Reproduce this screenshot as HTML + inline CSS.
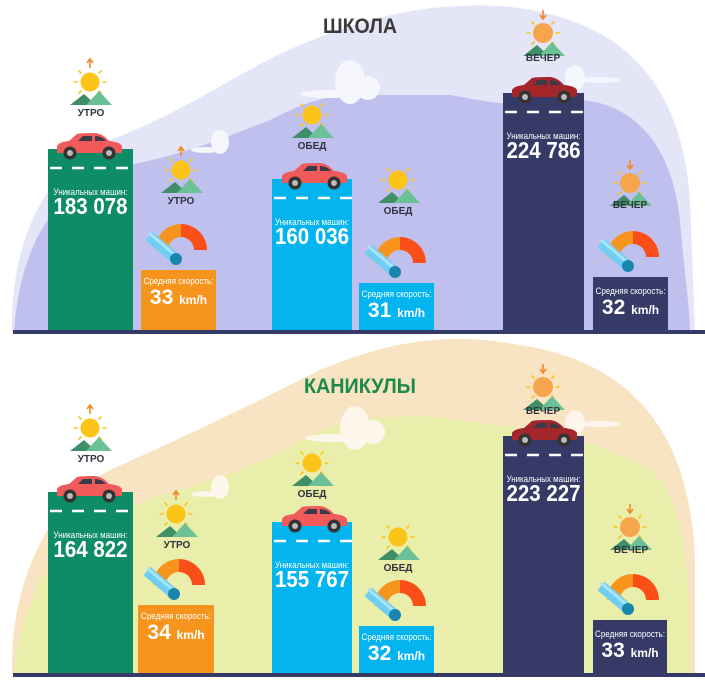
<!DOCTYPE html>
<html><head><meta charset="utf-8"><style>
html,body{margin:0;padding:0;background:#fff;}
svg{display:block;}
text{font-family:"Liberation Sans","DejaVu Sans",sans-serif;}
</style></head><body>
<svg width="705" height="682" viewBox="0 0 705 682" xmlns="http://www.w3.org/2000/svg">
<defs>
<g id="car">
<path d="M1,20 L1,13 Q3,9 13,8 L21,1 Q24,0 38,0 Q46,0 53,8 Q64,9 66,13 L66,20 Z"/>
<path d="M22,8 L27,3 L36,3 L36,8 Z M39,8 L39,3 Q46,3 50,8 Z" fill="#3a3a48"/>
<circle cx="14" cy="20" r="6.5" fill="#333"/><circle cx="14" cy="20" r="3" fill="#bbb"/>
<circle cx="53" cy="20" r="6.5" fill="#333"/><circle cx="53" cy="20" r="3" fill="#bbb"/>
</g>
<g id="mtn">
<path d="M-20,23 L-6,12 L6,23 Z" fill="#3e8e68"/>
<path d="M-4,23 L9,9 L22,23 Z" fill="#6cc095"/>
</g>
<g id="rays" stroke-width="1.6" stroke-linecap="round">
<line x1="-16" y1="0" x2="-13" y2="0"/><line x1="13" y1="0" x2="16" y2="0"/>
<line x1="-11" y1="-11" x2="-9" y2="-9"/><line x1="11" y1="-11" x2="9" y2="-9"/>
<line x1="-11" y1="11" x2="-9" y2="9"/><line x1="11" y1="11" x2="9" y2="9"/>
</g>
<g id="sunUp">
<use href="#rays" stroke="#fcc419"/>
<circle r="9.5" fill="#fcc419"/>
<path d="M0,-14 L0,-22 M-3,-19 L0,-23 L3,-19" stroke="#f0892a" stroke-width="1.6" fill="none"/>
<use href="#mtn"/>
</g>
<g id="sunMid">
<use href="#rays" stroke="#fcc419"/>
<circle r="9.5" fill="#fcc419"/>
<use href="#mtn"/>
</g>
<g id="sunDown">
<use href="#rays" stroke="#fcc419"/>
<circle r="10" fill="#f6a54c"/>
<path d="M0,-23 L0,-15 M-3,-18 L0,-14 L3,-18" stroke="#f0892a" stroke-width="1.6" fill="none"/>
<use href="#mtn"/>
</g>
<g id="gauge">
<path d="M-26,0 A26,26 0 0 1 -24,-10 L-12,-5 A13,13 0 0 0 -13,0 Z" fill="#fcc419"/>
<path d="M-24,-10 A26,26 0 0 1 0,-26 L0,-13 A13,13 0 0 0 -12,-5 Z" fill="#f7941d"/>
<path d="M0,-26 A26,26 0 0 1 26,0 L13,0 A13,13 0 0 0 0,-13 Z" fill="#fb4f1a"/>
<line x1="-32" y1="-14" x2="-5" y2="9" stroke="#6fcff2" stroke-width="11"/>
<line x1="-32" y1="-17" x2="-6" y2="5" stroke="#a9e4f8" stroke-width="3"/>
<circle cx="-5" cy="9" r="6" fill="#1a86b0"/>
</g>
</defs>

<!-- TOP BACKGROUND -->
<path d="M12,332 C10,250 40,170 110,140 C190,110 240,70 300,45 C360,20 420,2 500,6 C600,15 680,60 690,200 L695,332 Z" fill="#e5e5f8"/>
<path d="M14,332 C20,240 60,180 130,165 C200,150 230,135 270,120 C300,105 320,95 360,95 L450,95 C480,100 520,110 560,100 C620,95 670,130 680,220 C685,280 690,310 690,332 Z" fill="#c0c0ee"/>
<g fill="#f6f6fd">
<ellipse cx="350" cy="82" rx="15" ry="22"/><ellipse cx="368" cy="88" rx="12" ry="12"/><ellipse cx="330" cy="94" rx="30" ry="4"/>
<ellipse cx="220" cy="142" rx="9" ry="12"/><ellipse cx="205" cy="150" rx="14" ry="3"/>
<ellipse cx="575" cy="78" rx="10" ry="13"/><ellipse cx="600" cy="80" rx="20" ry="3"/>
</g>

<!-- BOTTOM BACKGROUND -->
<path d="M12,674 C10,580 50,500 110,470 C200,430 260,400 320,370 C380,345 440,330 520,345 C620,360 690,420 695,560 L695,674 Z" fill="#f8e3c2"/>
<path d="M14,674 C20,600 60,530 120,510 C200,480 260,470 300,440 C340,420 400,410 460,420 C540,430 600,440 650,470 C690,500 690,600 690,674 Z" fill="#e9eeaa"/>
<g fill="#fdf6ea">
<ellipse cx="355" cy="428" rx="15" ry="22"/><ellipse cx="373" cy="432" rx="12" ry="12"/><ellipse cx="335" cy="438" rx="30" ry="4"/>
<ellipse cx="220" cy="487" rx="9" ry="12"/><ellipse cx="205" cy="494" rx="14" ry="3"/>
<ellipse cx="575" cy="423" rx="10" ry="13"/><ellipse cx="600" cy="424" rx="20" ry="3"/>
</g>

<!-- TITLES -->
<text x="360" y="33" text-anchor="middle" font-size="21" font-weight="bold" fill="#3a3a3a" textLength="74" lengthAdjust="spacingAndGlyphs">ШКОЛА</text>
<text x="360" y="393" text-anchor="middle" font-size="21" font-weight="bold" fill="#1e8a4a" textLength="112" lengthAdjust="spacingAndGlyphs">КАНИКУЛЫ</text>

<!-- ===== TOP PANEL ===== -->
<rect x="48" y="149" width="85" height="183" fill="#0e8c66"/>
<rect x="141" y="270" width="75" height="62" fill="#f7941d"/>
<rect x="272" y="179" width="80" height="153" fill="#03b4ee"/>
<rect x="359" y="283" width="75" height="49" fill="#03b4ee"/>
<rect x="503" y="93" width="81" height="239" fill="#363a66"/>
<rect x="593" y="277" width="75" height="55" fill="#363a66"/>
<rect x="13" y="330" width="692" height="4" fill="#363a66"/>

<g stroke="#fff" stroke-width="2.5" stroke-dasharray="12,10">
<line x1="50" y1="168" x2="133" y2="168"/>
<line x1="274" y1="198" x2="352" y2="198"/>
<line x1="505" y1="112" x2="584" y2="112"/>
</g>
<use href="#car" x="56" y="133" fill="#f05a5a"/>
<use href="#car" x="281" y="163" fill="#f05a5a"/>
<use href="#car" x="511" y="77" fill="#a3262b"/>

<g fill="#fff" text-anchor="middle" lengthAdjust="spacingAndGlyphs">
<text x="90.5" y="195" font-size="9.5" textLength="74" lengthAdjust="spacingAndGlyphs">Уникальных машин:</text>
<text x="90.5" y="214" font-size="23" font-weight="bold" textLength="74" lengthAdjust="spacingAndGlyphs">183 078</text>
<text x="312" y="225" font-size="9.5" textLength="74" lengthAdjust="spacingAndGlyphs">Уникальных машин:</text>
<text x="312" y="244" font-size="23" font-weight="bold" textLength="74" lengthAdjust="spacingAndGlyphs">160 036</text>
<text x="543.5" y="139" font-size="9.5" textLength="74" lengthAdjust="spacingAndGlyphs">Уникальных машин:</text>
<text x="543.5" y="158" font-size="23" font-weight="bold" textLength="74" lengthAdjust="spacingAndGlyphs">224 786</text>
<text x="178.5" y="284" font-size="9" textLength="70" lengthAdjust="spacingAndGlyphs">Средняя скорость:</text>
<text x="178.5" y="304" font-size="21" font-weight="bold">33 <tspan font-size="12">km/h</tspan></text>
<text x="396.5" y="297" font-size="9" textLength="70" lengthAdjust="spacingAndGlyphs">Средняя скорость:</text>
<text x="396.5" y="317" font-size="21" font-weight="bold">31 <tspan font-size="12">km/h</tspan></text>
<text x="630.5" y="294" font-size="9" textLength="70" lengthAdjust="spacingAndGlyphs">Средняя скорость:</text>
<text x="630.5" y="314" font-size="21" font-weight="bold">32 <tspan font-size="12">km/h</tspan></text>
</g>

<use href="#gauge" x="181" y="250"/>
<use href="#gauge" x="400" y="263"/>
<use href="#gauge" x="633" y="257"/>

<use href="#sunUp" x="90" y="82"/>
<use href="#sunUp" x="181" y="170"/>
<use href="#sunMid" x="312" y="115"/>
<use href="#sunMid" x="398" y="180"/>
<use href="#sunDown" x="543" y="33"/>
<use href="#sunDown" x="630" y="183"/>
<g font-size="10" font-weight="bold" fill="#2f3340" text-anchor="middle">
<text x="91" y="116">УТРО</text>
<text x="181" y="204">УТРО</text>
<text x="312" y="149">ОБЕД</text>
<text x="398" y="214">ОБЕД</text>
<text x="543" y="61">ВЕЧЕР</text>
<text x="630" y="208">ВЕЧЕР</text>
</g>

<!-- ===== BOTTOM PANEL ===== -->
<rect x="48" y="492" width="85" height="183" fill="#0e8c66"/>
<rect x="138" y="605" width="76" height="70" fill="#f7941d"/>
<rect x="272" y="522" width="80" height="153" fill="#03b4ee"/>
<rect x="359" y="626" width="75" height="49" fill="#03b4ee"/>
<rect x="503" y="436" width="81" height="239" fill="#363a66"/>
<rect x="593" y="620" width="74" height="55" fill="#363a66"/>
<rect x="13" y="673" width="692" height="4" fill="#363a66"/>

<g stroke="#fff" stroke-width="2.5" stroke-dasharray="12,10">
<line x1="50" y1="511" x2="133" y2="511"/>
<line x1="274" y1="541" x2="352" y2="541"/>
<line x1="505" y1="455" x2="584" y2="455"/>
</g>
<use href="#car" x="56" y="476" fill="#f05a5a"/>
<use href="#car" x="281" y="506" fill="#f05a5a"/>
<use href="#car" x="511" y="420" fill="#a3262b"/>

<g fill="#fff" text-anchor="middle">
<text x="90.5" y="538" font-size="9.5" textLength="74" lengthAdjust="spacingAndGlyphs">Уникальных машин:</text>
<text x="90.5" y="557" font-size="23" font-weight="bold" textLength="74" lengthAdjust="spacingAndGlyphs">164 822</text>
<text x="312" y="568" font-size="9.5" textLength="74" lengthAdjust="spacingAndGlyphs">Уникальных машин:</text>
<text x="312" y="587" font-size="23" font-weight="bold" textLength="74" lengthAdjust="spacingAndGlyphs">155 767</text>
<text x="543.5" y="482" font-size="9.5" textLength="74" lengthAdjust="spacingAndGlyphs">Уникальных машин:</text>
<text x="543.5" y="501" font-size="23" font-weight="bold" textLength="74" lengthAdjust="spacingAndGlyphs">223 227</text>
<text x="176" y="619" font-size="9" textLength="70" lengthAdjust="spacingAndGlyphs">Средняя скорость:</text>
<text x="176" y="639" font-size="21" font-weight="bold">34 <tspan font-size="12">km/h</tspan></text>
<text x="396.5" y="640" font-size="9" textLength="70" lengthAdjust="spacingAndGlyphs">Средняя скорость:</text>
<text x="396.5" y="660" font-size="21" font-weight="bold">32 <tspan font-size="12">km/h</tspan></text>
<text x="630" y="637" font-size="9" textLength="70" lengthAdjust="spacingAndGlyphs">Средняя скорость:</text>
<text x="630" y="657" font-size="21" font-weight="bold">33 <tspan font-size="12">km/h</tspan></text>
</g>

<use href="#gauge" x="179" y="585"/>
<use href="#gauge" x="400" y="606"/>
<use href="#gauge" x="633" y="600"/>

<use href="#sunUp" x="90" y="428"/>
<use href="#sunUp" x="176" y="514"/>
<use href="#sunMid" x="312" y="463"/>
<use href="#sunMid" x="398" y="537"/>
<use href="#sunDown" x="543" y="387"/>
<use href="#sunDown" x="630" y="527"/>
<g font-size="10" font-weight="bold" fill="#2f3340" text-anchor="middle">
<text x="91" y="462">УТРО</text>
<text x="177" y="548">УТРО</text>
<text x="312" y="497">ОБЕД</text>
<text x="398" y="571">ОБЕД</text>
<text x="543" y="414">ВЕЧЕР</text>
<text x="631" y="553">ВЕЧЕР</text>
</g>
</svg>
</body></html>
